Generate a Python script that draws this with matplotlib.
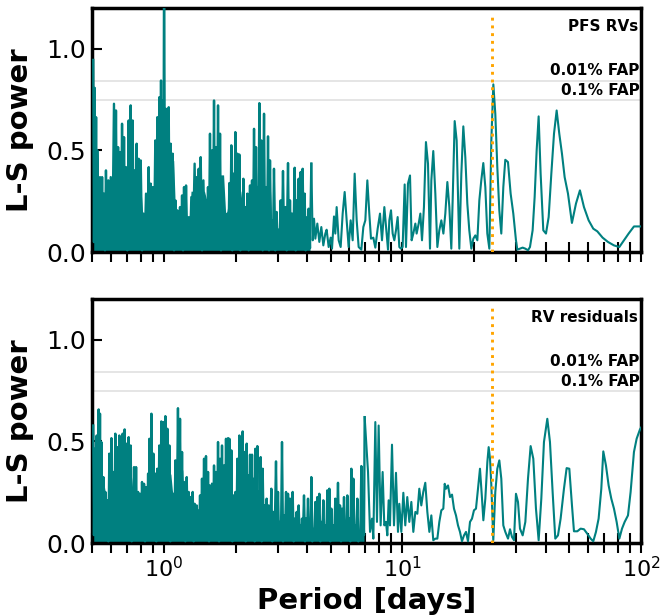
import numpy as np
import matplotlib
matplotlib.use('Agg')
import matplotlib.pyplot as plt

TEAL = '#008080'

# false-alarm levels and the marked period (days)
fap_001 = 0.843
fap_01 = 0.745
p_mark = 23.75

# ---- PFS RVs: dense short-period part (peaks with troughs between) ----
pfs_dense_period = [
    0.506, 0.513, 0.520, 0.526, 0.540, 0.551, 0.561, 0.572, 0.585, 0.599,
    0.618, 0.630, 0.643, 0.655, 0.668, 0.681, 0.694, 0.712, 0.726, 0.740,
    0.755, 0.769, 0.784, 0.800, 0.821, 0.842, 0.864, 0.881, 0.898, 0.921,
    0.939, 0.957, 0.973, 0.989, 1.002, 1.021, 1.048, 1.068, 1.089, 1.118,
    1.139, 1.169, 1.192, 1.215, 1.239, 1.271, 1.304, 1.346, 1.373, 1.400,
    1.427, 1.465, 1.503, 1.531, 1.561, 1.592, 1.623, 1.654, 1.687, 1.720,
    1.753, 1.799, 1.846, 1.882, 1.918, 1.955, 1.994, 2.033, 2.072, 2.113,
    2.154, 2.196, 2.239, 2.297, 2.342, 2.388, 2.434, 2.466, 2.514, 2.563,
    2.630, 2.681, 2.733, 2.786, 2.840, 2.895, 2.971, 3.029, 3.088, 3.158,
    3.230, 3.315, 3.379, 3.445, 3.535, 3.604, 3.674, 3.745, 3.818, 3.892,
    3.968, 4.045, 4.152]
pfs_dense_peak = [
    0.944, 0.807, 0.663, 0.500, 0.369, 0.369, 0.288, 0.402, 0.353, 0.369,
    0.729, 0.696, 0.516, 0.492, 0.631, 0.565, 0.418, 0.647, 0.721, 0.647,
    0.402, 0.533, 0.459, 0.451, 0.190, 0.288, 0.418, 0.337, 0.320, 0.549,
    0.663, 0.761, 0.843, 0.745, 1.400, 0.704, 0.712, 0.533, 0.484, 0.255,
    0.206, 0.222, 0.279, 0.320, 0.328, 0.141, 0.271, 0.435, 0.369, 0.410,
    0.467, 0.353, 0.255, 0.320, 0.582, 0.500, 0.745, 0.516, 0.721, 0.582,
    0.320, 0.190, 0.190, 0.340, 0.525, 0.386, 0.590, 0.484, 0.480, 0.255,
    0.361, 0.222, 0.288, 0.328, 0.353, 0.606, 0.516, 0.320, 0.732, 0.549,
    0.680, 0.320, 0.569, 0.451, 0.157, 0.410, 0.198, 0.108, 0.255, 0.399,
    0.222, 0.438, 0.255, 0.190, 0.415, 0.255, 0.361, 0.394, 0.410, 0.288,
    0.157, 0.214, 0.435]
pfs_dense_trough = [
    0.05, 0.12, 0.03, 0.08, 0.02, 0.06, 0.01, 0.04, 0.03, 0.02,
    0.10, 0.04, 0.02, 0.07, 0.03, 0.05, 0.01, 0.06, 0.09, 0.03,
    0.02, 0.05, 0.03, 0.01, 0.04, 0.02, 0.06, 0.03, 0.02, 0.05,
    0.08, 0.12, 0.10, 0.02, 0.15, 0.06, 0.04, 0.03, 0.01, 0.02,
    0.05, 0.03, 0.01, 0.04, 0.02, 0.03, 0.05, 0.02, 0.06, 0.03,
    0.01, 0.04, 0.02, 0.05, 0.03, 0.07, 0.02, 0.04, 0.03, 0.01,
    0.02, 0.04, 0.03, 0.05, 0.01, 0.06, 0.02, 0.03, 0.01, 0.04,
    0.02, 0.05, 0.01, 0.03, 0.06, 0.02, 0.04, 0.05, 0.03, 0.01,
    0.04, 0.02, 0.01, 0.05, 0.03, 0.01, 0.02, 0.04, 0.02, 0.03,
    0.01, 0.02, 0.04, 0.03, 0.01, 0.02, 0.05, 0.03, 0.02, 0.01,
    0.03, 0.02]
# height below which the unresolved short-period forest reads as solid
pfs_solid_period = [
    0.50, 0.59, 0.62, 0.80, 0.82, 0.84, 0.86, 0.93, 0.95, 1.10,
    1.12, 1.28, 1.30, 1.48, 1.54, 1.56, 1.78, 1.82, 1.90, 2.10,
    2.14, 2.38, 2.42, 2.80, 2.84, 3.48, 3.52, 3.98, 4.10]
pfs_solid_level = [
    0.25, 0.25, 0.33, 0.33, 0.15, 0.15, 0.30, 0.30, 0.45, 0.45,
    0.18, 0.18, 0.30, 0.30, 0.22, 0.38, 0.38, 0.17, 0.30, 0.30,
    0.22, 0.22, 0.30, 0.30, 0.12, 0.12, 0.18, 0.18, 0.05]

# ---- PFS RVs: resolved long-period part ----
pfs_line_period = [
    4.206, 4.261, 4.315, 4.399, 4.485, 4.572, 4.661, 4.752, 4.813, 4.907,
    5.003, 5.068, 5.167, 5.233, 5.301, 5.405, 5.510, 5.618, 5.727, 5.838,
    5.952, 6.068, 6.187, 6.307, 6.431, 6.555, 6.727, 6.858, 6.991, 7.128,
    7.265, 7.384, 7.552, 7.699, 7.875, 8.054, 8.212, 8.399, 8.590, 8.701,
    8.814, 8.957, 9.102, 9.249, 9.398, 9.551, 9.706, 9.864, 10.02, 10.22,
    10.35, 10.55, 10.76, 10.93, 11.11, 11.33, 11.47, 11.70, 11.89, 12.08,
    12.31, 12.55, 12.80, 13.05, 13.22, 13.47, 13.74, 14.01, 14.28, 14.56,
    14.85, 15.13, 15.43, 15.73, 16.03, 16.24, 16.56, 16.88, 17.32, 17.66,
    18.00, 18.35, 18.71, 19.07, 19.45, 19.83, 20.21, 20.61, 21.01, 21.41,
    21.83, 22.26, 22.69, 23.14, 23.59, 24.05, 24.51, 24.99, 25.48, 25.97,
    26.48, 26.99, 27.70, 28.42, 29.16, 29.92, 30.31, 31.10, 31.91, 32.74,
    33.60, 34.25, 35.14, 35.83, 36.53, 37.24, 37.96, 38.95, 39.97, 41.02,
    42.09, 43.19, 44.31, 45.45, 46.64, 47.86, 49.43, 51.35, 53.39, 55.47,
    57.67, 60.33, 63.09, 65.59, 69.04, 72.68, 77.04, 81.14, 84.85, 88.75,
    93.45, 99.70, 101.0]
pfs_line_power = [
    0.059, 0.165, 0.067, 0.141, 0.051, 0.124, 0.034, 0.092, 0.111, 0.026,
    0.072, 0.018, 0.176, 0.092, 0.222, 0.059, 0.026, 0.190, 0.296, 0.157,
    0.026, 0.157, 0.059, 0.386, 0.157, 0.026, 0.013, 0.124, 0.157, 0.353,
    0.190, 0.067, 0.072, 0.023, 0.116, 0.190, 0.059, 0.222, 0.092, 0.013,
    0.157, 0.206, 0.092, 0.059, 0.108, 0.173, 0.026, 0.018, 0.026, 0.333,
    0.026, 0.337, 0.377, 0.059, 0.092, 0.141, 0.092, 0.141, 0.190, 0.059,
    0.222, 0.541, 0.435, 0.018, 0.353, 0.497, 0.288, 0.026, 0.108, 0.157,
    0.092, 0.190, 0.345, 0.222, 0.018, 0.255, 0.644, 0.549, 0.018, 0.386,
    0.618, 0.467, 0.239, 0.108, 0.018, 0.067, 0.083, 0.059, 0.255, 0.353,
    0.438, 0.320, 0.092, 0.018, 0.549, 0.824, 0.680, 0.418, 0.206, 0.092,
    0.320, 0.454, 0.443, 0.288, 0.190, 0.059, 0.013, 0.018, 0.023, 0.018,
    0.010, 0.026, 0.108, 0.271, 0.500, 0.667, 0.386, 0.108, 0.092, 0.173,
    0.386, 0.582, 0.696, 0.582, 0.484, 0.369, 0.288, 0.144, 0.239, 0.304,
    0.222, 0.157, 0.116, 0.103, 0.072, 0.051, 0.034, 0.026, 0.059, 0.092,
    0.127, 0.127, 0.127]

# ---- RV residuals: dense short-period part ----
res_dense_period = [
    0.506, 0.513, 0.523, 0.533, 0.540, 0.547, 0.558, 0.569, 0.580, 0.591,
    0.603, 0.614, 0.626, 0.639, 0.651, 0.664, 0.672, 0.685, 0.699, 0.712,
    0.726, 0.740, 0.750, 0.765, 0.780, 0.795, 0.810, 0.826, 0.842, 0.859,
    0.870, 0.887, 0.904, 0.921, 0.939, 0.957, 0.976, 0.995, 1.015, 1.035,
    1.055, 1.075, 1.096, 1.118, 1.146, 1.169, 1.192, 1.215, 1.247, 1.271,
    1.296, 1.321, 1.346, 1.373, 1.391, 1.418, 1.445, 1.474, 1.502, 1.532,
    1.561, 1.592, 1.623, 1.654, 1.687, 1.720, 1.753, 1.788, 1.822, 1.858,
    1.882, 1.919, 1.956, 1.994, 2.033, 2.073, 2.099, 2.140, 2.182, 2.225,
    2.253, 2.297, 2.342, 2.388, 2.419, 2.466, 2.497, 2.546, 2.596, 2.646,
    2.697, 2.750, 2.822, 2.877, 2.952, 3.010, 3.069, 3.128, 3.190, 3.252,
    3.315, 3.380, 3.424, 3.467, 3.535, 3.604, 3.674, 3.745, 3.794, 3.868,
    3.943, 4.020, 4.098, 4.151, 4.232, 4.315, 4.399, 4.485, 4.573, 4.661,
    4.752, 4.845, 4.939, 5.036, 5.134, 5.233, 5.370, 5.475, 5.582, 5.691,
    5.801, 5.876, 5.991, 6.108, 6.227, 6.349, 6.472, 6.599, 6.727, 6.858,
    6.947]
res_dense_peak = [
    0.578, 0.464, 0.529, 0.657, 0.636, 0.497, 0.325, 0.252, 0.211, 0.440,
    0.516, 0.350, 0.538, 0.472, 0.529, 0.464, 0.538, 0.559, 0.489, 0.521,
    0.480, 0.252, 0.374, 0.374, 0.252, 0.243, 0.301, 0.292, 0.276, 0.342,
    0.513, 0.636, 0.440, 0.342, 0.366, 0.480, 0.598, 0.595, 0.624, 0.562,
    0.480, 0.252, 0.243, 0.407, 0.663, 0.611, 0.448, 0.301, 0.325, 0.252,
    0.227, 0.252, 0.194, 0.186, 0.157, 0.235, 0.317, 0.415, 0.428, 0.350,
    0.284, 0.252, 0.382, 0.350, 0.497, 0.415, 0.480, 0.382, 0.513, 0.516,
    0.513, 0.456, 0.235, 0.252, 0.415, 0.529, 0.350, 0.549, 0.448, 0.489,
    0.333, 0.435, 0.435, 0.317, 0.464, 0.477, 0.252, 0.423, 0.366, 0.186,
    0.219, 0.186, 0.268, 0.154, 0.402, 0.252, 0.105, 0.497, 0.137, 0.252,
    0.243, 0.219, 0.121, 0.252, 0.121, 0.154, 0.186, 0.088, 0.121, 0.235,
    0.121, 0.219, 0.088, 0.325, 0.056, 0.203, 0.227, 0.243, 0.105, 0.211,
    0.088, 0.260, 0.268, 0.170, 0.088, 0.219, 0.297, 0.186, 0.170, 0.227,
    0.088, 0.235, 0.121, 0.366, 0.317, 0.088, 0.219, 0.056, 0.379, 0.154,
    0.619]
res_dense_trough = [
    0.04, 0.10, 0.06, 0.12, 0.05, 0.03, 0.02, 0.04, 0.01, 0.05,
    0.03, 0.06, 0.02, 0.04, 0.07, 0.03, 0.05, 0.02, 0.04, 0.03,
    0.01, 0.05, 0.02, 0.03, 0.04, 0.02, 0.06, 0.01, 0.03, 0.05,
    0.04, 0.02, 0.03, 0.01, 0.05, 0.06, 0.03, 0.08, 0.04, 0.02,
    0.01, 0.03, 0.05, 0.04, 0.07, 0.02, 0.03, 0.01, 0.04, 0.02,
    0.03, 0.01, 0.05, 0.02, 0.04, 0.03, 0.06, 0.02, 0.03, 0.01,
    0.04, 0.05, 0.02, 0.03, 0.01, 0.04, 0.02, 0.05, 0.03, 0.02,
    0.03, 0.01, 0.05, 0.02, 0.04, 0.06, 0.02, 0.03, 0.01, 0.05,
    0.03, 0.02, 0.04, 0.01, 0.03, 0.05, 0.02, 0.01, 0.04, 0.03,
    0.06, 0.02, 0.01, 0.04, 0.03, 0.02, 0.05, 0.01, 0.03, 0.02,
    0.04, 0.03, 0.05, 0.01, 0.02, 0.04, 0.03, 0.02, 0.05, 0.01,
    0.03, 0.02, 0.04, 0.01, 0.03, 0.02, 0.06, 0.01, 0.04, 0.02,
    0.03, 0.05, 0.01, 0.02, 0.04, 0.03, 0.02, 0.01, 0.05, 0.03,
    0.02, 0.04, 0.01, 0.03, 0.02, 0.05, 0.01, 0.03, 0.02, 0.04]
res_solid_period = [
    0.50, 0.56, 0.58, 0.60, 0.73, 0.75, 0.86, 0.88, 1.07, 1.09,
    1.13, 1.15, 1.20, 1.22, 1.41, 1.43, 1.55, 1.57, 1.86, 1.90,
    2.55, 2.60, 3.50, 3.55, 4.85, 4.90, 6.90]
res_solid_level = [
    0.30, 0.30, 0.18, 0.34, 0.34, 0.20, 0.20, 0.34, 0.34, 0.24,
    0.24, 0.36, 0.36, 0.17, 0.17, 0.26, 0.26, 0.30, 0.30, 0.22,
    0.22, 0.11, 0.11, 0.08, 0.08, 0.05, 0.05]

# ---- RV residuals: resolved long-period part ----
res_line_period = [
    7.175, 7.315, 7.457, 7.553, 7.699, 7.823, 7.950, 8.104, 8.262, 8.396,
    8.533, 8.644, 8.756, 8.870, 9.043, 9.219, 9.398, 9.581, 9.706, 9.895,
    10.09, 10.28, 10.48, 10.69, 10.90, 11.11, 11.33, 11.55, 11.77, 12.00,
    12.23, 12.47, 12.72, 12.97, 13.22, 13.47, 13.74, 14.01, 14.28, 14.56,
    14.84, 15.04, 15.23, 15.53, 15.83, 16.14, 16.45, 16.77, 17.10, 17.43,
    17.77, 18.12, 18.47, 18.83, 19.20, 19.57, 19.95, 20.34, 20.74, 21.14,
    21.56, 21.84, 22.26, 22.70, 22.99, 23.29, 23.59, 24.04, 24.51, 24.99,
    25.48, 25.97, 26.48, 27.00,
    27.71, 28.25, 28.80, 29.36, 29.92, 30.51, 31.10, 31.92, 32.75, 33.60,
    34.47, 35.37, 36.29, 37.24, 38.21, 39.20, 40.49, 41.54, 42.62, 43.73,
    44.88, 46.04, 47.55, 48.79, 50.07, 51.37, 52.37, 54.08, 55.84, 57.67,
    59.56, 61.51, 63.10, 64.75, 66.43, 68.18, 69.51, 71.31, 73.18, 75.09,
    77.05, 79.06, 81.14, 83.26, 85.42, 88.21, 90.47, 93.43, 95.88, 99.03,
    101.0]
res_line_power = [
    0.350, 0.056, 0.121, 0.023, 0.595, 0.105, 0.578, 0.088, 0.350, 0.088,
    0.105, 0.039, 0.211, 0.088, 0.484, 0.088, 0.346, 0.056, 0.194, 0.056,
    0.248, 0.088, 0.227, 0.105, 0.203, 0.056, 0.154, 0.145, 0.268, 0.186,
    0.252, 0.297, 0.154, 0.056, 0.137, 0.015, 0.023, 0.023, 0.105, 0.162,
    0.170, 0.292, 0.268, 0.284, 0.227, 0.239, 0.170, 0.137, 0.088, 0.056,
    0.010, 0.039, 0.056, 0.010, 0.105, 0.121, 0.162, 0.170, 0.268, 0.366,
    0.219, 0.113, 0.219, 0.399, 0.472, 0.415, 0.284, 0.015, 0.252, 0.366,
    0.407, 0.317, 0.088, 0.056,
    0.023, 0.069, 0.031, 0.015, 0.243, 0.203, 0.072, 0.039, 0.105, 0.317,
    0.477, 0.415, 0.170, 0.015, 0.219, 0.497, 0.611, 0.497, 0.252, 0.023,
    0.039, 0.121, 0.268, 0.369, 0.366, 0.186, 0.059, 0.059, 0.072, 0.069,
    0.047, 0.023, 0.010, 0.056, 0.121, 0.268, 0.451, 0.382, 0.284, 0.219,
    0.170, 0.105, 0.023, 0.072, 0.105, 0.137, 0.252, 0.448, 0.513, 0.559,
    0.575]


def zigzag(periods, peaks, troughs):
    '''
    Join peaks with the troughs between them; each trough sits midway
    (in log period) between its two neighbouring peaks.
    '''
    p = np.asarray(periods, dtype=float)
    n = min(len(p), len(peaks), len(troughs) + 1)
    p = p[:n]
    x = np.empty(2*n - 1)
    y = np.empty(2*n - 1)
    x[0::2] = p
    x[1::2] = np.sqrt(p[:-1]*p[1:])
    y[0::2] = np.asarray(peaks[:n], dtype=float)
    y[1::2] = np.asarray(troughs[:n-1], dtype=float)
    return x, y


fig = plt.figure(figsize=(6.63, 6.16), dpi=100)
ax1 = fig.add_axes([0.1388, 0.5904, 0.828, 0.397])
ax2 = fig.add_axes([0.1388, 0.1180, 0.828, 0.397])

panels = [
    (ax1, 'PFS RVs',
     (pfs_dense_period, pfs_dense_peak, pfs_dense_trough),
     (pfs_solid_period, pfs_solid_level),
     (pfs_line_period, pfs_line_power)),
    (ax2, 'RV residuals',
     (res_dense_period, res_dense_peak, res_dense_trough),
     (res_solid_period, res_solid_level),
     (res_line_period, res_line_power)),
]

for ax, name, dense, solid, line in panels:
    dx, dy = zigzag(*dense)
    x = np.concatenate([dx, line[0]])
    y = np.concatenate([dy, line[1]])
    ax.fill_between(solid[0], 0, solid[1], color=TEAL, lw=0, zorder=2)
    ax.plot(dx, dy, color=TEAL, lw=1.7, zorder=3)
    ax.plot(x[len(dx)-1:], y[len(dy)-1:], color=TEAL, lw=1.5, zorder=3)
    ax.axhline(fap_001, color='0.89', lw=1.3, zorder=1)
    ax.axhline(fap_01, color='0.89', lw=1.3, zorder=1)
    ax.axvline(p_mark, ymax=0.97, color='orange', ls=':', lw=2.1, zorder=4)

    ax.set_xscale('log')
    ax.set_xlim(0.5, 100)
    ax.set_ylim(0, 1.2)
    ax.set_yticks([0.0, 0.5, 1.0])

    ax.text(97, 1.11, name, ha='right', va='center',
            fontsize=11, fontweight='bold')
    ax.text(98.5, fap_001 + 0.01, '0.01% FAP', ha='right', va='bottom',
            fontsize=11, fontweight='bold')
    ax.text(98.5, fap_01 + 0.01, '0.1% FAP', ha='right', va='bottom',
            fontsize=11, fontweight='bold')

    ax.set_ylabel('L-S power', fontsize=21, fontweight='bold', labelpad=9)
    ax.tick_params(axis='y', direction='in', length=7, width=1.5,
                   labelsize=18, pad=4)
    ax.tick_params(axis='x', which='both', direction='inout', length=14,
                   width=1.5, labelsize=16, pad=2)
    for s in ax.spines.values():
        s.set_linewidth(2.5)

ax1.tick_params(axis='x', which='both', labelbottom=False)
ax2.set_xlabel('Period [days]', fontsize=21, fontweight='bold')

fig.savefig('out.png', dpi=100)
